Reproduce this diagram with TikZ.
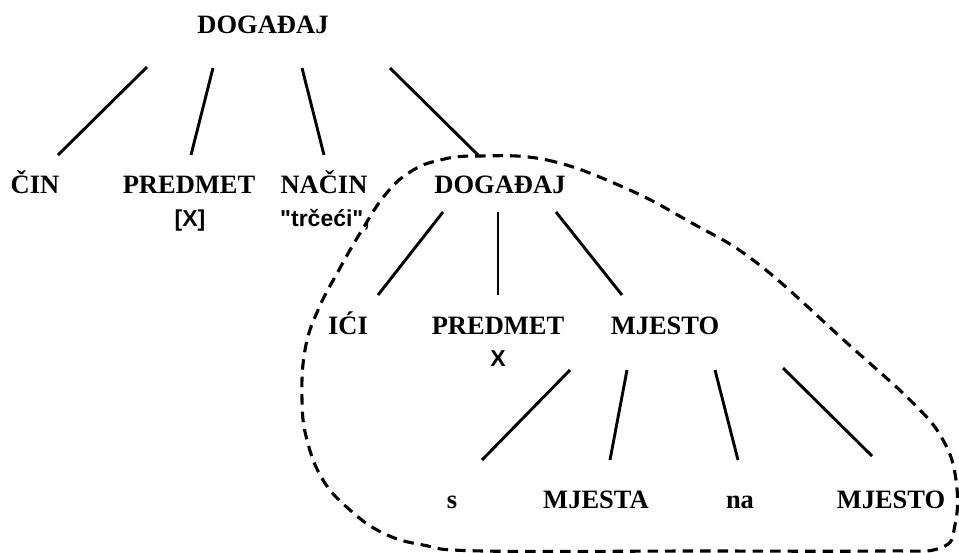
\documentclass[tikz,border=0pt]{standalone}
\usepackage{fontspec}
\setmainfont{Liberation Serif}
\newfontfamily\arialfont{Liberation Sans}
\begin{document}
\begin{tikzpicture}[x=1pt,y=-1pt,
  lbl/.style={font=\fontsize{26.5}{30}\selectfont\bfseries, anchor=base, inner sep=0pt},
  sub/.style={font=\arialfont\fontsize{23}{27}\selectfont\bfseries, anchor=base, inner sep=0pt},
  edge/.style={line width=2.9pt},
  hull/.style={line width=3.1pt, dash pattern=on 10.5pt off 7pt}]
\useasboundingbox (0,0) rectangle (959,552);
% nodes
\node[lbl] (top) at (263,33) {DOGAĐAJ};
\node[lbl] (cin) at (35,193) {ČIN};
\node[lbl] (pred1) at (189,193) {PREDMET};
\node[sub] (x1) at (190,226) {[X]};
\node[lbl] (nacin) at (324,193) {NAČIN};
\node[sub] (trc) at (325,226) {"trčeći",};
\node[lbl] (dog2) at (500,193) {DOGAĐAJ};
\node[lbl] (ici) at (348,334) {IĆI};
\node[lbl] (pred2) at (498,334) {PREDMET};
\node[sub] (x2) at (498,366) {X};
\node[lbl] (mj) at (665,334) {MJESTO};
\node[lbl] (s) at (452,508) {s};
\node[lbl] (mjesta) at (596,508) {MJESTA};
\node[lbl] (na) at (740,508) {na};
\node[lbl] (mj2) at (891,508) {MJESTO};
% connector ends
\coordinate (a1) at (147,67);  \coordinate (b1) at (58,155);
\coordinate (a2) at (213,68);  \coordinate (b2) at (191,155);
\coordinate (a3) at (302,68);  \coordinate (b3) at (324,155);
\coordinate (a4) at (390,68);  \coordinate (b4) at (478,155);
\coordinate (a5) at (443,212); \coordinate (b5) at (378,295);
\coordinate (a6) at (498,212); \coordinate (b6) at (498,295);
\coordinate (a7) at (556,212); \coordinate (b7) at (622,295);
\coordinate (a8) at (570,370); \coordinate (b8) at (482,460);
\coordinate (a9) at (627,370); \coordinate (b9) at (610,460);
\coordinate (a10) at (715,370); \coordinate (b10) at (738,460);
\coordinate (a11) at (783,368); \coordinate (b11) at (872,456);
\draw[edge] (a1) -- (b1);
\draw[edge] (a2) -- (b2);
\draw[edge] (a3) -- (b3);
\draw[edge] (a4) -- (b4);
\draw[edge] (a5) -- (b5);
\draw[edge] (a6) -- (b6);
\draw[edge] (a7) -- (b7);
\draw[edge] (a8) -- (b8);
\draw[edge] (a9) -- (b9);
\draw[edge] (a10) -- (b10);
\draw[edge] (a11) -- (b11);
% dashed hull
\draw[hull] plot[smooth cycle, tension=0.7] coordinates {
  (478,156) (547,160) (623,187) (690,222) (757,263)
  (847,343) (913,403) (943,440) (956,480) (955,525) (940,548)
  (880,551) (700,551) (483,551) (423,545) (383,533) (350,510)
  (323,480) (307,440) (302,400) (305,350) (318,310) (340,268)
  (362,230) (385,195) (410,172) (440,160)};
\end{tikzpicture}
\end{document}
